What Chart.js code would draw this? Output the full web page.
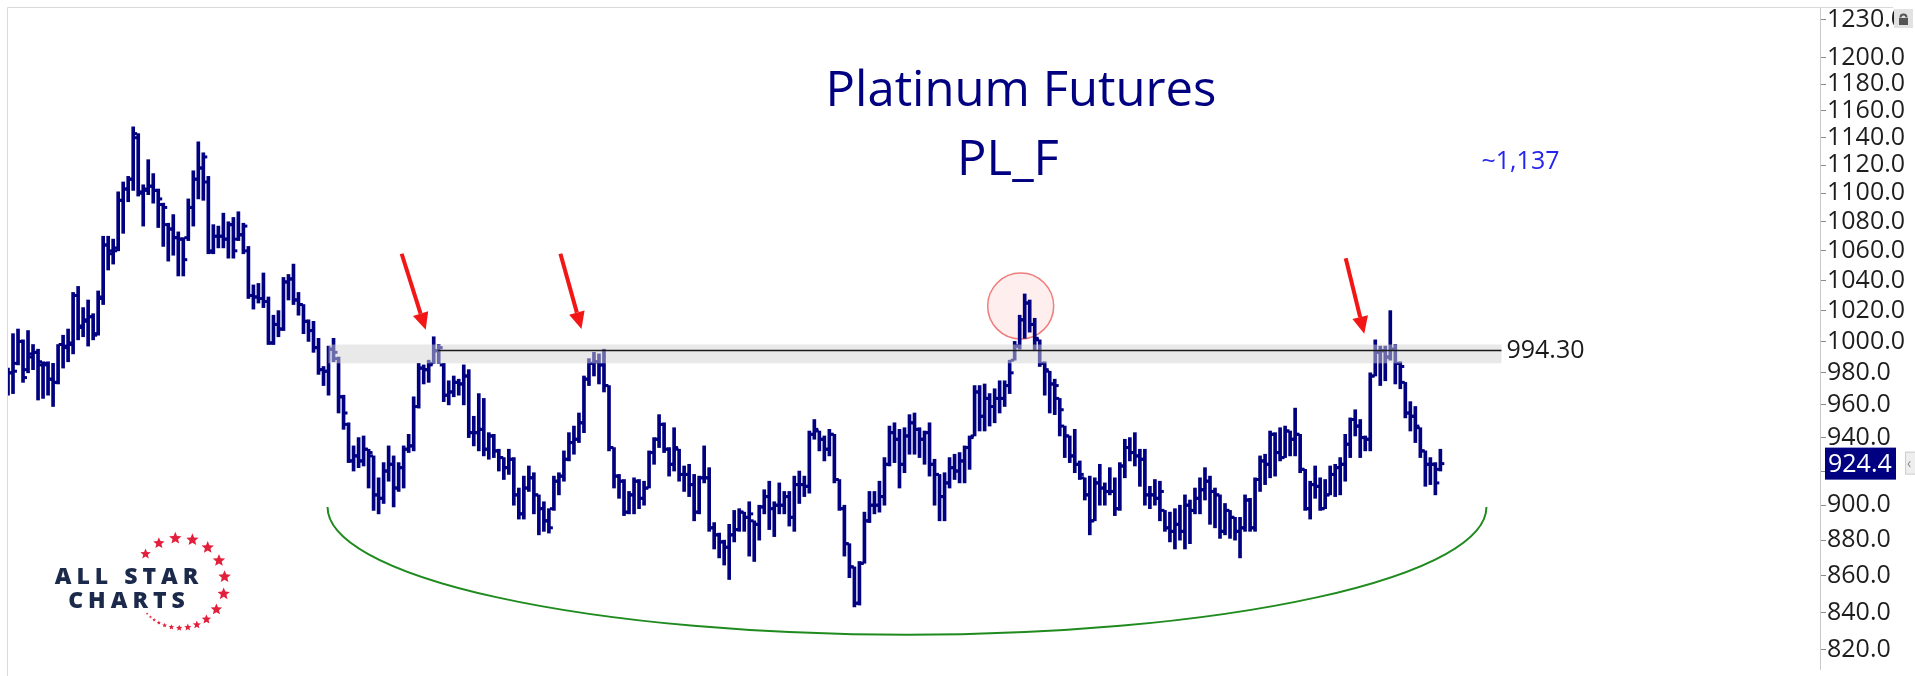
<!DOCTYPE html>
<html>
<head>
<meta charset="utf-8">
<title>Platinum Futures PL_F</title>
<script src="https://cdn.jsdelivr.net/npm/chart.js@4.4.1/dist/chart.umd.min.js"></script>
<style>
  html, body { margin: 0; padding: 0; background: #fff; }
  #wrap { width: 1915px; height: 676px; }
</style>
</head>
<body>
<div id="wrap"><canvas id="plChart" width="1915" height="676"></canvas></div>
<script>
	'use strict';

	// daily OHLC bars (oldest first)
	var opens = [
		972,980,986,1000,982,990,993,985,985,976, 974,998,996,998,1030,1010,1013,1016,1005,1028,
		1064,1058,1062,1095,1103,1110,1140,1100,1102,1105, 1102,1092,1078,1075,1069,1068,1069,1090,1110,1118,
		1108,1060,1070,1070,1068,1078,1068,1071,1060,1030, 1029,1028,1026,999,1011,1008,1039,1041,1027,1024,
		1013,1007,996,982,981,995,989,965,948,926, 929,926,933,929,906,904,920,924,910,922,
		933,935,959,983,982,986,994,985,966,968, 974,973,978,943,943,945,933,941,932,928,
		922,927,906,895,910,916,906,898,891,898, 914,917,927,937,939,949,976,986,987,985,
		972,934,917,914,896,906,914,904,910,931, 939,948,933,924,933,918,918,912,896,916,
		916,887,883,879,876,883,886,896,893,891, 889,899,905,898,900,900,905,893,912,912,
		911,942,944,939,933,942,915,898,878,865, 845,867,891,900,900,905,924,943,939,924,
		941,949,945,939,943,924,918,905,913,922, 920,926,934,941,968,953,964,959,964,964,
		972,988,997,1014,1025,1011,1001,986,981,973, 964,947,941,929,924,916,906,891,913,910,
		908,908,898,923,934,931,929,927,906,906, 904,897,887,885,889,885,900,897,904,909,
		914,908,906,885,897,893,885,887,903,887, 915,926,924,942,931,928,944,939,942,921,
		898,912,911,898,906,918,922,924,936,951, 947,940,939,978,993,994,990,995,986,974,
		955,953,946,932,924,924,921
	];
	var highs = [
		983,1005,1008,1001,1007,998,995,987,987,986, 998,1004,1008,1032,1036,1022,1027,1018,1033,1070,
		1070,1068,1101,1108,1112,1148,1143,1106,1124,1114, 1103,1093,1079,1085,1073,1069,1096,1116,1137,1129,
		1112,1078,1077,1086,1080,1083,1087,1079,1063,1037, 1038,1045,1029,1017,1020,1042,1044,1051,1032,1024,
		1014,1013,1002,984,997,1002,990,966,949,935, 940,941,933,929,916,925,935,929,925,935,
		942,965,986,985,988,1003,998,986,975,978, 976,985,982,953,967,964,943,942,933,928,
		933,928,910,917,923,919,906,902,898,917, 919,932,943,947,955,978,989,993,992,995,
		972,934,918,915,908,916,915,914,932,940, 954,949,934,946,933,923,924,918,917,935,
		922,890,884,880,889,897,898,896,902,891, 900,909,914,902,913,908,908,917,920,917,
		944,951,944,941,945,942,915,900,878,865, 868,896,908,908,914,928,947,949,945,946,
		954,955,946,944,949,927,918,919,928,930, 931,935,941,972,972,973,967,970,975,975,
		988,1000,1017,1031,1027,1015,1001,987,981,976, 964,947,941,945,926,916,917,916,924,913,
		922,916,925,939,940,943,933,933,911,915, 914,897,896,898,900,906,903,910,916,922,
		917,910,906,901,897,893,893,906,904,916, 929,930,944,943,946,947,944,958,942,921,
		914,923,916,915,923,924,928,942,952,957, 951,941,980,1001,997,997,1020,998,987,974,
		962,959,946,932,928,925,933
	];
	var lows = [
		966,967,985,974,980,982,963,964,966,959, 973,983,987,992,1001,1003,997,1001,1004,1024,
		1047,1051,1060,1072,1094,1102,1098,1077,1099,1093, 1076,1063,1053,1057,1043,1043,1067,1077,1096,1095,
		1058,1058,1062,1062,1055,1055,1067,1058,1028,1021, 1025,1022,998,998,1003,1007,1027,1024,1017,1005,
		1000,993,979,972,966,987,955,945,925,920, 922,923,910,897,895,901,914,899,908,910,
		931,932,958,973,974,986,986,962,960,965, 966,960,940,935,932,929,927,928,920,915,
		918,900,892,892,908,895,883,885,884,897, 906,914,926,930,937,943,972,978,973,968,
		932,910,904,894,895,895,898,900,910,924, 934,931,917,920,914,908,905,891,895,913,
		885,875,870,866,858,879,885,885,871,868, 880,895,886,882,895,895,888,885,901,905,
		907,939,932,926,929,913,897,871,859,843, 844,867,890,895,896,900,923,925,910,919,
		930,930,928,924,917,900,891,891,910,915, 913,913,921,941,944,944,947,949,955,959,
		967,988,995,1002,1006,994,984,966,955,954, 941,928,925,919,915,903,883,891,900,900,
		906,894,897,916,926,923,911,900,898,900, 891,885,879,875,880,875,878,895,895,903,
		889,887,881,883,881,880,870,885,885,885, 908,912,916,917,926,928,929,929,919,897,
		892,904,897,898,906,905,906,914,928,941, 928,932,932,978,972,975,988,973,970,952,
		944,937,928,911,912,906,920
	];
	var closes = [
		980,981,1000,977,992,993,987,986,976,974, 998,997,999,1030,1009,1014,1016,1004,1029,1064,
		1060,1060,1095,1103,1110,1143,1101,1103,1105,1102, 1096,1090,1075,1069,1068,1054,1090,1110,1118,1126,
		1059,1070,1070,1068,1078,1060,1071,1077,1030,1029, 1028,1026,999,1011,1008,1039,1041,1027,1024,1013,
		1007,996,982,981,995,993,965,955,926,929, 926,933,931,906,904,920,924,910,922,933,
		935,959,983,982,985,994,996,966,968,974, 973,978,943,943,945,933,941,932,928,922,
		927,906,895,910,916,906,898,891,887,914, 917,927,937,939,949,976,986,987,985,972,
		934,917,914,896,906,914,904,910,931,939, 948,933,924,934,918,918,912,896,916,916,
		887,883,879,876,883,886,896,893,895,889, 899,905,898,900,900,905,893,912,912,911,
		942,945,939,933,942,915,898,878,865,845, 867,891,900,900,905,924,943,939,924,941,
		949,945,939,943,924,918,905,913,922,920, 926,934,940,968,953,964,959,964,964,972,
		980,997,1014,1025,1011,1002,986,982,973,972, 957,941,929,924,918,906,891,913,910,908,
		908,898,923,934,931,929,927,906,906,904, 908,887,885,889,885,900,897,904,909,914,
		908,906,885,897,893,885,887,903,887,915, 926,924,942,931,928,944,939,942,921,898,
		912,911,898,906,918,922,924,936,951,947, 940,939,978,993,994,990,995,986,984,955,
		953,947,932,924,924,913,924.4
	];

	// price axis labels
	var yTicks = [820,840,860,880,900,920,940,960,980,1000,1020,1040,1060,1080,1100,1120,1140,1160,1180,1200,1230];

	// annotations, in bar index / price units
	var resistanceLevel = 994.30;
	var resistanceZone = [986, 998];
	var zoneFrom = 64, levelFrom = 85.8, zoneTo = 298.2;
	var arrowMarks = [
		{from: [78.6, 1058], to: [83.4, 1007.5]},
		{from: [110.3, 1058], to: [114.5, 1008]},
		{from: [267.1, 1055], to: [270.8, 1005]}
	];
	var breakoutMark = {x: 202.2, y: 1023};
	var bowlMark = {from: 63.8, to: 295.2, rim: 899, bottom: 828};
	var targetNote = {x: 302, y: 1122.5, text: '~1,137'};
	var titleLines = ['Platinum Futures', 'PL_F'];

	var navy = '#000080';
	var barIndex = closes.map(function (c, i) { return i; });

	function drawArrow(ctx, x1, y1, x2, y2) {
		var ang = Math.atan2(y2 - y1, x2 - x1),
			head = 17, half = 8,
			bx = x2 - head * Math.cos(ang),
			by = y2 - head * Math.sin(ang);
		ctx.beginPath();
		ctx.moveTo(x1, y1);
		ctx.lineTo(bx, by);
		ctx.lineWidth = 4;
		ctx.strokeStyle = '#f21616';
		ctx.stroke();
		ctx.beginPath();
		ctx.moveTo(x2, y2);
		ctx.lineTo(bx + half * Math.sin(ang), by - half * Math.cos(ang));
		ctx.lineTo(bx - half * Math.sin(ang), by + half * Math.cos(ang));
		ctx.closePath();
		ctx.fillStyle = '#f21616';
		ctx.fill();
	}

	function drawStar(ctx, cx, cy, r) {
		ctx.beginPath();
		for (var k = 0; k < 10; k++) {
			var a = -Math.PI / 2 + k * Math.PI / 5,
				rr = k % 2 ? r * 0.45 : r;
			ctx.lineTo(cx + rr * Math.cos(a), cy + rr * Math.sin(a));
		}
		ctx.closePath();
		ctx.fill();
	}

	function drawLogo(ctx) {
		// ring of stars: [angle in degrees, size]
		var ring = [[-140,5.5],[-118,6],[-96,6.5],[-74,6.5],[-52,6.5],[-30,6.5],[-8,6.5],[14,6.5],[36,6],
			[54,5],[68,4.3],[80,3.8],[91,3.3],[101,2.9],[110,2.5],[118,2.2],[125,1.9],[131,1.6],[137,1.4]];
		ctx.fillStyle = '#e3203c';
		ring.forEach(function (s) {
			var a = s[0] * Math.PI / 180;
			drawStar(ctx, 180 + 45 * Math.cos(a), 583 + 45 * Math.sin(a), s[1]);
		});
		ctx.fillStyle = '#1b2a4a';
		ctx.font = '800 23px "Open Sans"';
		ctx.textAlign = 'center';
		ctx.textBaseline = 'alphabetic';
		ctx.letterSpacing = '5px';
		ctx.fillText('ALL STAR', 129, 584);
		ctx.fillText('CHARTS', 129, 608);
		ctx.letterSpacing = '0px';
	}

	var overlayPlugin = {
		id: 'plOverlay',
		beforeDatasetsDraw: function (chart) {
			var ctx = chart.ctx, xs = chart.scales.x, ys = chart.scales.y;
			ctx.save();
			ctx.beginPath();
			ctx.arc(xs.getPixelForValue(breakoutMark.x), ys.getPixelForValue(breakoutMark.y), 33, 0, Math.PI * 2);
			ctx.fillStyle = 'rgba(250, 90, 90, 0.10)';
			ctx.fill();
			ctx.lineWidth = 1.5;
			ctx.strokeStyle = '#f07c7c';
			ctx.stroke();
			ctx.restore();
		},
		afterDatasetsDraw: function (chart) {
			var ctx = chart.ctx, area = chart.chartArea,
				xs = chart.scales.x, ys = chart.scales.y;
			ctx.save();
			ctx.beginPath();
			ctx.rect(area.left, area.top, area.right - area.left, area.bottom - area.top);
			ctx.clip();

			var zx1 = xs.getPixelForValue(zoneFrom), zx2 = xs.getPixelForValue(zoneTo),
				zy1 = ys.getPixelForValue(resistanceZone[1]), zy2 = ys.getPixelForValue(resistanceZone[0]);
			ctx.fillStyle = 'rgba(212, 212, 212, 0.5)';
			ctx.fillRect(zx1, zy1, zx2 - zx1, zy2 - zy1);

			var ly = Math.round(ys.getPixelForValue(resistanceLevel)) + 0.5;
			ctx.beginPath();
			ctx.moveTo(xs.getPixelForValue(levelFrom), ly);
			ctx.lineTo(zx2, ly);
			ctx.lineWidth = 1.5;
			ctx.strokeStyle = '#1a1a1a';
			ctx.stroke();

			var bx1 = xs.getPixelForValue(bowlMark.from), bx2 = xs.getPixelForValue(bowlMark.to),
				rimY = ys.getPixelForValue(bowlMark.rim), lowY = ys.getPixelForValue(bowlMark.bottom);
			ctx.beginPath();
			ctx.ellipse((bx1 + bx2) / 2, rimY, (bx2 - bx1) / 2, lowY - rimY, 0, 0, Math.PI);
			ctx.lineWidth = 2;
			ctx.strokeStyle = '#1f8b1f';
			ctx.stroke();

			arrowMarks.forEach(function (a) {
				drawArrow(ctx,
					xs.getPixelForValue(a.from[0]), ys.getPixelForValue(a.from[1]),
					xs.getPixelForValue(a.to[0]), ys.getPixelForValue(a.to[1]));
			});
			ctx.restore();
		},
		afterDraw: function (chart) {
			var ctx = chart.ctx, area = chart.chartArea,
				xs = chart.scales.x, ys = chart.scales.y;
			ctx.save();

			// frame
			ctx.strokeStyle = '#d9d9d9';
			ctx.lineWidth = 1;
			ctx.beginPath();
			ctx.moveTo(area.left + 0.5, 676);
			ctx.lineTo(area.left + 0.5, area.top + 0.5);
			ctx.lineTo(1893, area.top + 0.5);
			ctx.stroke();

			// title
			ctx.fillStyle = navy;
			ctx.font = '49px "Open Sans"';
			ctx.textAlign = 'center';
			ctx.textBaseline = 'alphabetic';
			ctx.fillText(titleLines[0], 1021, 106);
			ctx.fillText(titleLines[1], 1008, 175);

			// target note
			ctx.fillStyle = '#2424f0';
			ctx.font = '25px "Open Sans"';
			ctx.textBaseline = 'middle';
			ctx.fillText(targetNote.text, xs.getPixelForValue(targetNote.x), ys.getPixelForValue(targetNote.y));

			// level label
			ctx.fillStyle = '#1a1a1a';
			ctx.textAlign = 'left';
			ctx.fillText(resistanceLevel.toFixed(2), xs.getPixelForValue(zoneTo) + 5, ys.getPixelForValue(resistanceLevel) + 1);

			// last price box
			var last = closes[closes.length - 1], py = ys.getPixelForValue(last);
			ctx.fillStyle = navy;
			ctx.fillRect(area.right + 5, py - 16, 71, 32);
			ctx.fillStyle = '#ffffff';
			ctx.fillText(last.toFixed(1), area.right + 8, py + 1);
			ctx.fillStyle = '#eeeeee';
			ctx.strokeStyle = '#cccccc';
			ctx.fillRect(1905.5, py - 11.5, 10, 22);
			ctx.strokeRect(1905.5, py - 11.5, 10, 22);
			ctx.fillStyle = '#888888';
			ctx.font = '14px "Open Sans"';
			ctx.fillText('\u2039', 1907, py);

			// lock icon
			ctx.fillStyle = '#e2e2e2';
			ctx.fillRect(1894, 9, 19, 19);
			ctx.fillStyle = '#555555';
			ctx.fillRect(1899, 18, 9, 7);
			ctx.beginPath();
			ctx.arc(1903.5, 17.5, 3, Math.PI, 2 * Math.PI);
			ctx.lineWidth = 2;
			ctx.strokeStyle = '#555555';
			ctx.stroke();

			drawLogo(ctx);
			ctx.restore();
		}
	};

	new Chart(document.getElementById('plChart'), {
		type: 'bar',
		data: {
			datasets: [
				{
					type: 'bar',
					data: barIndex.map(function (i) { return {x: i, y: [lows[i], highs[i]]}; }),
					backgroundColor: navy,
					borderWidth: 0,
					barThickness: 3,
					order: 3
				},
				{
					type: 'scatter',
					data: barIndex.map(function (i) { return {x: i - 0.45, y: opens[i]}; }),
					pointStyle: 'line',
					pointRadius: 1.7,
					pointBorderWidth: 3,
					pointBorderColor: navy,
					showLine: false,
					order: 2
				},
				{
					type: 'scatter',
					data: barIndex.map(function (i) { return {x: i + 0.45, y: closes[i]}; }),
					pointStyle: 'line',
					pointRadius: 1.7,
					pointBorderWidth: 3,
					pointBorderColor: navy,
					showLine: false,
					order: 1
				}
			]
		},
		options: {
			responsive: false,
			animation: false,
			devicePixelRatio: 1,
			events: [],
			layout: {padding: {left: 5, top: 6, right: 0, bottom: 0}},
			plugins: {
				legend: {display: false},
				tooltip: {enabled: false},
				title: {display: false}
			},
			scales: {
				x: {
					type: 'linear',
					min: -0.2,
					max: 361.8,
					offset: false,
					display: false
				},
				y: {
					type: 'logarithmic',
					position: 'right',
					min: 810,
					max: 1240,
					afterBuildTicks: function (axis) {
						axis.ticks = yTicks.map(function (v) { return {value: v}; });
					},
					afterFit: function (axis) {
						axis.width = 95;
						axis.paddingTop = 0;
						axis.paddingBottom = 0;
					},
					grid: {drawOnChartArea: false, drawTicks: true, tickLength: 6, color: '#8a8a8a'},
					border: {display: true, color: '#c8c8c8'},
					ticks: {
						autoSkip: false,
						padding: 1,
						color: '#1e1e1e',
						font: {family: '"Open Sans"', size: 25},
						callback: function (v) { return Number(v).toFixed(1); }
					}
				}
			}
		},
		plugins: [overlayPlugin]
	});
</script>
</body>
</html>
